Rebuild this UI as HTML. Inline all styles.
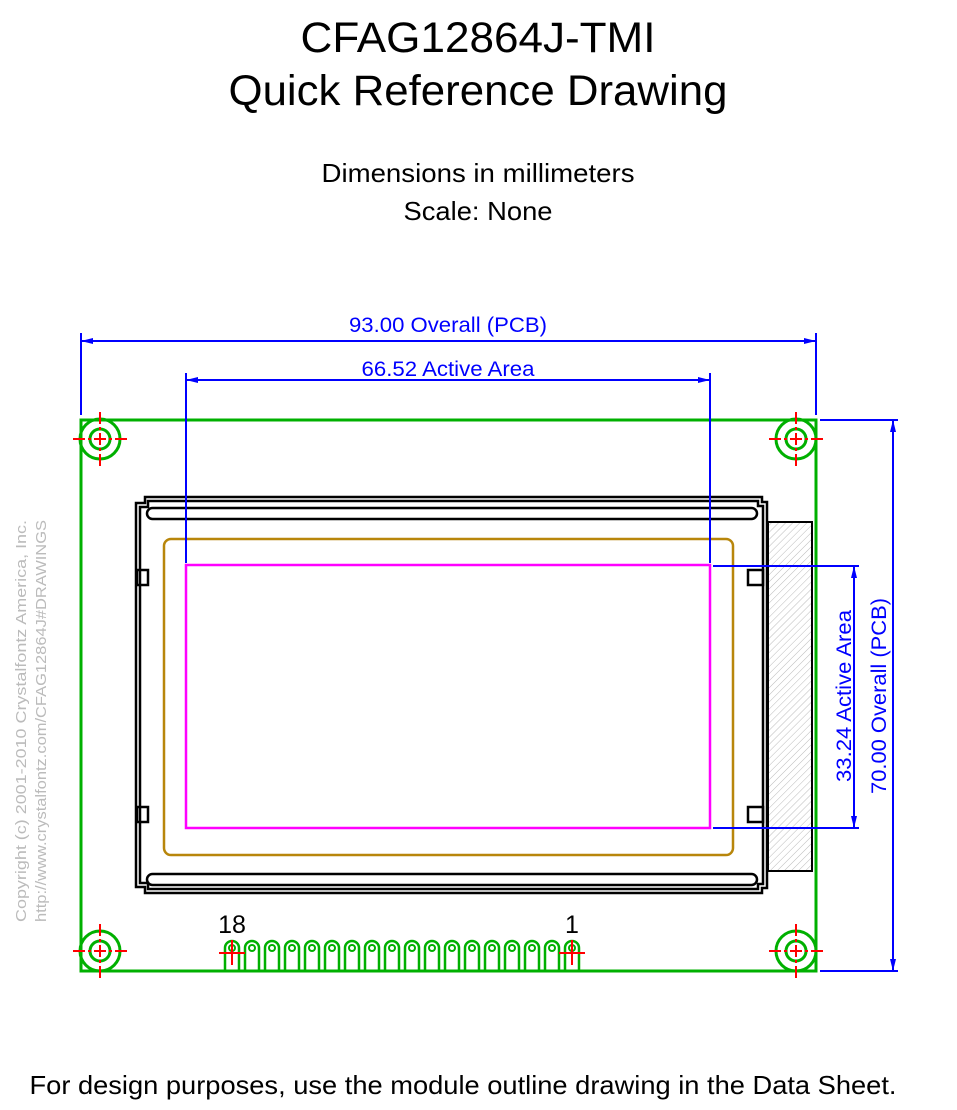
<!DOCTYPE html>
<html><head><meta charset="utf-8"><style>
html,body{margin:0;padding:0;background:#fff;width:957px;height:1110px;overflow:hidden}
svg{display:block}
text{font-family:"Liberation Sans",Arial,sans-serif}
</style></head><body>
<svg width="957" height="1110" viewBox="0 0 957 1110" xmlns="http://www.w3.org/2000/svg">
<defs>
<pattern id="h" width="5" height="5" patternUnits="userSpaceOnUse" patternTransform="rotate(45)">
<line x1="0" y1="0" x2="0" y2="5" stroke="#bbb" stroke-width="1"/></pattern>
<g id="pin"><path d="M-7,971 V948 A7,7 0 0 1 7,948 V971" fill="none" stroke="#00b000" stroke-width="2.5"/><circle cx="0" cy="948" r="3" fill="none" stroke="#00b000" stroke-width="2"/></g>
<g id="hole"><circle r="20" fill="none" stroke="#00b000" stroke-width="3"/><circle r="10" fill="none" stroke="#00b000" stroke-width="3"/><path d="M-27,0 H27 M0,-27 V27" stroke="#f00" stroke-width="2" stroke-dasharray="12,3,3,3"/></g>
</defs>
<text x="478" y="52" font-size="43" text-anchor="middle" textLength="355" lengthAdjust="spacingAndGlyphs">CFAG12864J-TMI</text>
<text x="478" y="105" font-size="43" text-anchor="middle" textLength="499" lengthAdjust="spacingAndGlyphs">Quick Reference Drawing</text>
<text x="478" y="182" font-size="26" text-anchor="middle" textLength="313" lengthAdjust="spacingAndGlyphs">Dimensions in millimeters</text>
<text x="478" y="220" font-size="26" text-anchor="middle" textLength="149" lengthAdjust="spacingAndGlyphs">Scale: None</text>
<text x="463" y="1094" font-size="26" text-anchor="middle" textLength="867" lengthAdjust="spacingAndGlyphs">For design purposes, use the module outline drawing in the Data Sheet.</text>
<g fill="#bbb" font-size="15">
<text transform="translate(26,922) rotate(-90)" textLength="402" lengthAdjust="spacingAndGlyphs">Copyright (c) 2001-2010 Crystalfontz America, Inc.</text>
<text transform="translate(46,922) rotate(-90)" textLength="402" lengthAdjust="spacingAndGlyphs">http://www.crystalfontz.com/CFAG12864J#DRAWINGS</text>
</g>
<rect x="768" y="522" width="44" height="349" fill="url(#h)" stroke="#000" stroke-width="2"/>
<rect x="81" y="420" width="735" height="551" fill="none" stroke="#00b000" stroke-width="3"/>
<use href="#hole" x="100" y="439"/><use href="#hole" x="796" y="439"/>
<use href="#hole" x="100" y="951"/><use href="#hole" x="796" y="951"/>
<g fill="none" stroke="#000" stroke-width="2.5">
<path d="M145,497 H762 V502 H767 V888 H762 V893 H145 V887 H136 V503 H145 Z"/>
<path d="M148,501 H758 V506 H763 V884 H758 V889 H148 V883 H140 V507 H148 Z"/>
<rect x="147" y="508" width="610" height="11" rx="5.5"/>
<rect x="147" y="874" width="610" height="11" rx="5.5"/>
<rect x="137" y="570" width="11" height="15"/><rect x="137" y="807" width="11" height="15"/>
<rect x="748" y="570" width="15" height="15"/><rect x="748" y="807" width="15" height="15"/>
</g>
<rect x="164" y="539" width="569" height="316" rx="7" fill="none" stroke="#b8860b" stroke-width="2.5"/>
<rect x="186" y="565" width="524" height="263" fill="none" stroke="#f0f" stroke-width="2.5"/>
<g>
<use href="#pin" x="232"/><use href="#pin" x="252"/><use href="#pin" x="272"/><use href="#pin" x="292"/><use href="#pin" x="312"/><use href="#pin" x="332"/><use href="#pin" x="352"/><use href="#pin" x="372"/><use href="#pin" x="392"/><use href="#pin" x="412"/><use href="#pin" x="432"/><use href="#pin" x="452"/><use href="#pin" x="472"/><use href="#pin" x="492"/><use href="#pin" x="512"/><use href="#pin" x="532"/><use href="#pin" x="552"/><use href="#pin" x="572"/>
</g>
<path d="M219,953 H245 M232,940 V965 M559,953 H585 M572,940 V965" stroke="#f00" stroke-width="2"/>
<text x="232" y="933" font-size="25" text-anchor="middle">18</text>
<text x="572" y="933" font-size="25" text-anchor="middle">1</text>
<g stroke="#00f" stroke-width="2" fill="none">
<path d="M81,333 V415 M816,333 V415 M81,341 H816"/>
<path d="M186,373 V563 M710,373 V563 M186,380 H710"/>
<path d="M713,566 H859 M713,828 H859 M854,566 V828"/>
<path d="M820,420 H898 M820,971 H898 M893,420 V971"/>
</g>
<g fill="#00f">
<path d="M81,341 l12,-3 v6z M816,341 l-12,-3 v6z M186,380 l12,-3 v6z M710,380 l-12,-3 v6z"/>
<path d="M854,566 l-3,12 h6z M854,828 l-3,-12 h6z M893,420 l-3,12 h6z M893,971 l-3,-12 h6z"/>
<g font-size="21" text-anchor="middle">
<text x="448" y="332" textLength="198" lengthAdjust="spacingAndGlyphs">93.00 Overall (PCB)</text>
<text x="448" y="376" textLength="173" lengthAdjust="spacingAndGlyphs">66.52 Active Area</text>
<text transform="translate(851,696) rotate(-90)" textLength="172" lengthAdjust="spacingAndGlyphs">33.24 Active Area</text>
<text transform="translate(886,696) rotate(-90)" textLength="196" lengthAdjust="spacingAndGlyphs">70.00 Overall (PCB)</text>
</g></g>
</svg>
</body></html>
